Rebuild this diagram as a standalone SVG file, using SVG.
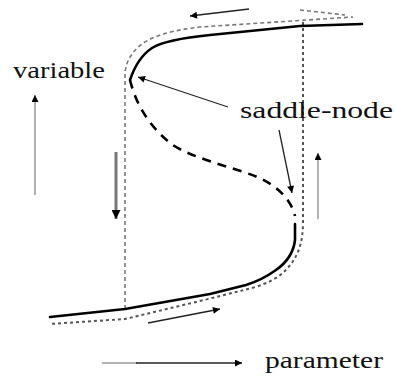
<svg xmlns="http://www.w3.org/2000/svg" width="396" height="377" viewBox="0 0 396 377">
  <style>
    .txt { font-family: 'Liberation Serif', 'Times New Roman', Times, serif; font-size: 23px; fill: #111; }
    .solid { fill: none; stroke: #000; stroke-width: 2.6; stroke-linejoin: round; stroke-linecap: round; }
    .unstable { fill: none; stroke: #000; stroke-width: 2.6; stroke-dasharray: 9 7; }
    .loopL { fill: none; stroke: #777; stroke-width: 1.6; stroke-dasharray: 4 3; }
    .loopR { fill: none; stroke: #555; stroke-width: 2; stroke-dasharray: 3 3; }
    .arr { fill: none; stroke: #222; stroke-width: 1.3; }
    .garr { fill: none; stroke: #888; stroke-width: 1.3; }
  </style>
  <defs>
    <marker id="ah" viewBox="0 0 10 10" refX="10" refY="5" markerWidth="9" markerHeight="7" markerUnits="userSpaceOnUse" orient="auto">
      <path d="M0,0 L10,5 L0,10 Z" fill="#000"/>
    </marker>
    <marker id="ahb" viewBox="0 0 10 10" refX="10" refY="5" markerWidth="11" markerHeight="9" markerUnits="userSpaceOnUse" orient="auto">
      <path d="M0,0 L10,5 L0,10 Z" fill="#000"/>
    </marker>
  </defs>

  <g id="hysteresis-loop">
    <path class="loopL" d="M125,309 L125,75 C125,60 135,45 155,37 C170,31 185,29 200,27 L353,17"/>
    <path class="loopL" d="M300,10 L345,15"/>
    <path class="loopR" d="M303,22 L303,222 C303,245 297,262 279,276 C266,285 252,288 240,291 L196,302 L125,319 L50,324"/>
  </g>

  <g id="curve">
    <path class="solid" d="M130,80 C134,68 140,56 152,48 C165,40 190,37 210,35 L300,26 L362,24"/>
    <path class="unstable" d="M130,80 C135,100 145,122 170,143 C190,158 230,166 260,178 C282,189 292,203 295,216"/>
    <path class="solid" d="M295,224 L295,240 Q293,258 276,270 Q262,280 246,285 L210,294 L125,309 L50,317"/>
  </g>

  <g id="connectors">
    <line class="garr" x1="35" y1="195" x2="35" y2="95" marker-end="url(#ah)"/>
    <line x1="116" y1="152" x2="116" y2="219" stroke="#777" stroke-width="3" marker-end="url(#ahb)"/>
    <line class="garr" x1="318" y1="219" x2="318" y2="153" marker-end="url(#ah)"/>
    <line x1="102" y1="363" x2="137" y2="363" stroke="#999" stroke-width="1.5"/>
    <line class="arr" x1="136" y1="363" x2="242" y2="363" stroke-width="1.5" marker-end="url(#ah)"/>
    <line class="arr" x1="249" y1="9" x2="190" y2="16" marker-end="url(#ah)"/>
    <line class="arr" x1="148" y1="323" x2="220" y2="309" marker-end="url(#ah)"/>
    <line class="arr" x1="228" y1="107" x2="138" y2="77" marker-end="url(#ah)"/>
    <line class="arr" x1="279" y1="130" x2="292" y2="193" marker-end="url(#ah)"/>
  </g>

  <g id="labels">
    <text id="label-variable" class="txt" font-family="Liberation Serif, serif" x="13" y="78" textLength="92" lengthAdjust="spacingAndGlyphs">variable</text>
    <text id="label-saddle-node" class="txt" font-family="Liberation Serif, serif" x="240" y="118" textLength="153" lengthAdjust="spacingAndGlyphs">saddle-node</text>
    <text id="label-parameter" class="txt" font-family="Liberation Serif, serif" x="265" y="368" textLength="118" lengthAdjust="spacingAndGlyphs">parameter</text>
  </g>
</svg>
